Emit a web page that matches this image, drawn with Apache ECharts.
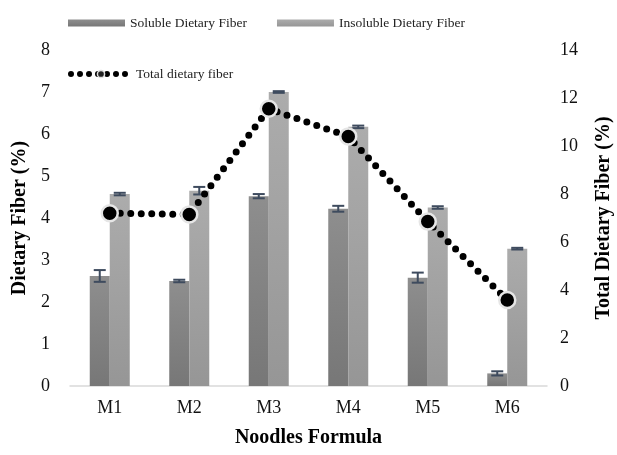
<!DOCTYPE html>
<html>
<head>
<meta charset="utf-8">
<script src="https://cdn.jsdelivr.net/npm/echarts@6/dist/echarts.min.js"></script>
<style>
  html, body { margin: 0; padding: 0; background: #fff; }
  #chart { width: 617px; height: 455px; }
</style>
</head>
<body>
<div id="chart"></div>
<script>
// data
const formulas = ['M1', 'M2', 'M3', 'M4', 'M5', 'M6'];
const soluble = [2.62, 2.5, 4.52, 4.22, 2.58, 0.3];
const solubleErr = [0.14, 0.03, 0.05, 0.07, 0.12, 0.05];
const insoluble = [4.57, 4.65, 7.0, 6.17, 4.25, 3.27];
const insolubleErr = [0.03, 0.09, 0.02, 0.03, 0.03, 0.02];
const total = [7.2, 7.15, 11.55, 10.4, 6.85, 3.58];
const leftTicks = [0, 8, 1];   // min, max, step
const rightTicks = [0, 14, 2];

const font = 'Liberation Serif';
const BAR_W = 20;

const chart = echarts.init(document.getElementById('chart'));

function grad(top, bottom) {
    return new echarts.graphic.LinearGradient(0, 0, 0, 1, [
        { offset: 0, color: top },
        { offset: 1, color: bottom }
    ]);
}

// draws capped error bars, shifted left/right of the category center
function errorBars(values, errs, shift) {
    const data = values.map((v, i) => [i, v - errs[i], v + errs[i]]);
    return {
        type: 'custom',
        yAxisIndex: 0,
        silent: true,
        z: 5,
        data: data,
        renderItem: function (params, api) {
            const lo = api.coord([api.value(0), api.value(1)]);
            const hi = api.coord([api.value(0), api.value(2)]);
            const x = lo[0] + shift;
            const cap = 6;
            const style = { stroke: '#3e4b5e', lineWidth: 2 };
            return {
                type: 'group',
                children: [
                    { type: 'line', shape: { x1: x, y1: lo[1], x2: x, y2: hi[1] }, style: style },
                    { type: 'line', shape: { x1: x - cap, y1: lo[1], x2: x + cap, y2: lo[1] }, style: style },
                    { type: 'line', shape: { x1: x - cap, y1: hi[1], x2: x + cap, y2: hi[1] }, style: style }
                ]
            };
        }
    };
}

const nameStyle = { fontFamily: font, fontWeight: 'bold', fontSize: 20, color: '#000' };
const tickStyle = { fontFamily: font, fontSize: 18, color: '#111' };

const option = {
    animation: false,
    textStyle: { fontFamily: font },
    legend: [
        {
            data: ['Soluble Dietary Fiber', 'Insoluble Dietary Fiber'],
            left: 63, top: 11,
            itemWidth: 57, itemHeight: 7, itemGap: 30,
            icon: 'rect',
            textStyle: { fontFamily: font, fontSize: 13.5, color: '#222' }
        },
        {
            data: ['Total dietary fiber'],
            left: 63, top: 62,
            itemWidth: 60, itemHeight: 9,
            lineStyle: { width: 6, type: [0, 9], cap: 'round', color: '#000' },
            itemStyle: { color: '#222', borderColor: '#e0e0e0', borderWidth: 1.5 },
            textStyle: { fontFamily: font, fontSize: 13.5, color: '#222' }
        }
    ],
    grid: { left: 70, right: 70, top: 50, bottom: 69, outerBoundsMode: 'none' },
    xAxis: {
        type: 'category',
        data: formulas,
        name: 'Noodles Formula',
        nameLocation: 'middle',
        nameGap: 42,
        nameTextStyle: nameStyle,
        axisLine: { lineStyle: { color: '#d9d9d9', width: 1.5 } },
        axisTick: { show: false },
        axisLabel: Object.assign({ margin: 13 }, tickStyle)
    },
    yAxis: [
        {
            type: 'value',
            min: leftTicks[0], max: leftTicks[1], interval: leftTicks[2],
            name: 'Dietary Fiber (%)',
            nameLocation: 'middle',
            nameGap: 37,
            nameTextStyle: nameStyle,
            axisLine: { show: false },
            axisTick: { show: false },
            splitLine: { show: false },
            axisLabel: Object.assign({ margin: 20 }, tickStyle)
        },
        {
            type: 'value',
            min: rightTicks[0], max: rightTicks[1], interval: rightTicks[2],
            name: 'Total Dietary Fiber (%)',
            nameLocation: 'middle',
            nameGap: 47,
            nameRotate: 90,
            nameTextStyle: nameStyle,
            axisLine: { show: false },
            axisTick: { show: false },
            splitLine: { show: false },
            axisLabel: Object.assign({ margin: 13 }, tickStyle)
        }
    ],
    series: [
        {
            name: 'Soluble Dietary Fiber',
            type: 'bar',
            data: soluble,
            barWidth: BAR_W,
            barGap: '0%',
            itemStyle: { color: grad('#8e8e8e', '#777777') }
        },
        {
            name: 'Insoluble Dietary Fiber',
            type: 'bar',
            data: insoluble,
            barWidth: BAR_W,
            barGap: '0%',
            itemStyle: { color: grad('#acacac', '#969696') }
        },
        errorBars(soluble, solubleErr, -BAR_W / 2),
        errorBars(insoluble, insolubleErr, BAR_W / 2),
        {
            name: 'Total dietary fiber',
            type: 'line',
            yAxisIndex: 1,
            data: total,
            z: 10,
            symbol: 'circle',
            symbolSize: 16,
            itemStyle: { color: '#000', borderColor: '#e6e6e6', borderWidth: 2.5 },
            lineStyle: { color: '#000', width: 7, type: [0, 10.5], cap: 'round' }
        }
    ]
};

chart.setOption(option);
</script>
</body>
</html>
